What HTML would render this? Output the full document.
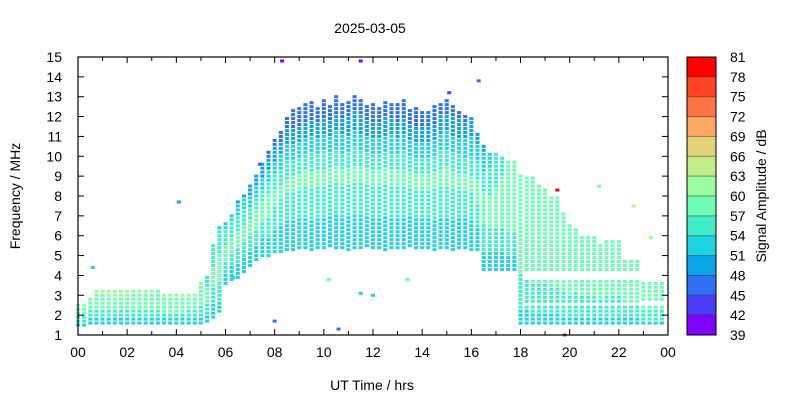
<!DOCTYPE html>
<html><head><meta charset="utf-8"><style>
body{margin:0;background:#fff;}
svg{display:block;font-family:"Liberation Sans",sans-serif;}
</style></head><body>
<svg id="chart" width="800" height="400" viewBox="0 0 800 400" xmlns="http://www.w3.org/2000/svg">
<text x="370" y="33" font-size="14" text-anchor="middle">2025-03-05</text>
<g id="marks"></g>
<g id="axes"></g>
<text x="372" y="390" font-size="14" text-anchor="middle">UT Time / hrs</text>
<text transform="translate(20,196) rotate(-90)" font-size="14" text-anchor="middle">Frequency / MHz</text>
<g id="cbar"></g>
<text transform="translate(766,196) rotate(-90)" font-size="14" text-anchor="middle">Signal Amplitude / dB</text>
</svg>
<script>
const lo1=[1.5,1.5,1.6,1.6,1.6,1.6,1.6,1.6,1.6,1.6,
1.6,1.6,1.6,1.6,1.6,1.6,1.6,1.6,1.6,1.6,
1.6,1.7,1.9,2.2,3.6,3.8,3.9,4.2,4.5,4.8,
5.0,5.0,5.2,5.2,5.3,5.3,5.4,5.4,5.3,5.4,
5.4,5.5,5.4,5.4,5.3,5.4,5.4,5.5,5.4,5.4,
5.3,5.4,5.4,5.4,5.5,5.4,5.4,5.4,5.3,5.4,
5.4,5.3,5.4,5.4,5.3,5.3,4.3,4.3,4.3,4.3,
4.3,4.3,1.6,1.6,1.6,1.6,1.6,1.6,1.6,1.6,
1.6,1.6,1.6,1.6,1.6,1.6,1.6,1.6,1.6,1.6,
1.6,1.6,1.6,1.6,1.6,1.6];
const hi1=[2.5,2.5,2.5,2.5,2.5,2.5,2.5,2.5,2.5,2.5,
2.5,2.5,2.5,2.5,2.5,2.5,2.5,2.5,2.5,2.5,
2.5,3.9,5.6,6.4,6.6,7.1,7.7,8.1,8.5,9.0,
9.6,10.2,10.8,11.3,11.9,12.3,12.4,12.6,12.7,12.5,
12.8,12.6,13.0,12.7,12.8,13.1,12.9,12.6,12.6,12.5,
12.8,12.7,12.6,12.8,12.4,12.4,12.3,12.3,12.5,12.6,
12.8,12.6,12.2,12.1,11.9,11.2,10.6,10.2,10.1,10.0,
9.7,9.7,2.4,2.4,2.4,2.4,2.4,2.4,2.4,2.4,
2.4,2.4,2.4,2.4,2.4,2.4,2.4,2.4,2.4,2.4,
2.4,2.4,2.4,2.4,2.4,2.4];
const lo2=[0,0,2.6,2.6,2.6,2.6,2.6,2.6,2.6,2.6,
2.6,2.6,2.6,2.6,2.6,2.6,2.6,2.6,2.6,2.6,
2.6,0,0,0,0,0,0,0,0,0,
0,0,0,0,0,0,0,0,0,0,
0,0,0,0,0,0,0,0,0,0,
0,0,0,0,0,0,0,0,0,0,
0,0,0,0,0,0,0,0,0,0,
0,0,2.6,2.7,2.7,2.7,2.7,2.7,2.7,2.7,
2.7,2.7,2.7,2.7,2.7,2.7,2.7,2.7,2.7,2.7,
2.7,2.7,2.8,2.8,2.8,2.8];
const hi2=[0,0,2.9,3.2,3.2,3.2,3.2,3.2,3.2,3.3,
3.3,3.3,3.3,3.3,3.0,3.0,3.0,3.0,3.0,3.0,
3.6,0,0,0,0,0,0,0,0,0,
0,0,0,0,0,0,0,0,0,0,
0,0,0,0,0,0,0,0,0,0,
0,0,0,0,0,0,0,0,0,0,
0,0,0,0,0,0,0,0,0,0,
0,0,9.0,3.8,3.8,3.8,3.8,3.8,3.8,3.8,
3.8,3.8,3.8,3.8,3.8,3.8,3.8,3.8,3.8,3.8,
3.8,3.8,3.7,3.7,3.7,3.7];
const lo3=[0,0,0,0,0,0,0,0,0,0,
0,0,0,0,0,0,0,0,0,0,
0,0,0,0,0,0,0,0,0,0,
0,0,0,0,0,0,0,0,0,0,
0,0,0,0,0,0,0,0,0,0,
0,0,0,0,0,0,0,0,0,0,
0,0,0,0,0,0,0,0,0,0,
0,0,0,4.3,4.3,4.3,4.3,4.3,4.3,4.3,
4.3,4.3,4.3,4.3,4.3,4.3,4.3,4.3,4.3,4.3,
4.3,4.3,0,0,0,0];
const hi3=[0,0,0,0,0,0,0,0,0,0,
0,0,0,0,0,0,0,0,0,0,
0,0,0,0,0,0,0,0,0,0,
0,0,0,0,0,0,0,0,0,0,
0,0,0,0,0,0,0,0,0,0,
0,0,0,0,0,0,0,0,0,0,
0,0,0,0,0,0,0,0,0,0,
0,0,0,9.0,8.9,8.5,8.3,7.9,8.0,7.2,
6.6,6.4,5.9,5.9,5.9,5.5,5.7,5.7,5.7,4.8,
4.8,4.8,0,0,0,0];
const ampBot=[52,52,52,52,52,52,52,52,52,52,52,52,52,52,52,52,52,52,52,52,52,52,52,52,51,51,51,51,51,51,51,51,51,51,51,51,51,51,51,51,51,51,51,51,51,51,51,51,51,51,51,51,51,51,51,51,51,51,51,51,51,51,51,51,51,51,52,52,52,52,52,52,53,53,53,53,53,53,53,53,53,53,53,53,53,53,53,53,53,53,53,53,53,53,53,53];
const ampMid=[57,57,57,58,58,58,58,58,58,58,58,58,58,58,58,58,58,58,57,57,58,58,58,59,59,59,59,59,59,59,59,59,58,58,58,58,58,58,58,58,58,58,58,58,58,58,58,58,58,58,58,58,58,58,58,58,58,58,58,58,58,58,58,58,58,59,59,59,59,59,59,59,59,59,60,60,60,60,60,60,60,59,59,59,59,59,59,59,59,59,59,59,59,59,59,59];
const ampTop=[60,60,60,60,60,61,61,61,61,61,61,61,61,60,60,60,60,60,60,60,60,56,55,54,53,52,51,50,49,48,48,47,47,46,46,45,45,45,45,45,45,45,45,45,45,45,45,45,45,45,45,45,45,45,45,45,45,45,45,46,46,46,47,47,48,49,50,52,54,56,58,58,57,57,57,57,57,57,57,57,57,57,57,57,57,57,57,57,57,57,57,57,57,57,57,57];
const outT=[8.3,11.5,15.1,16.3,4.1,0.6,10.6,8.0,19.5,21.2,22.6,23.3,19.8,10.2,13.4,12.0,11.5,7.4,6.3];
const outF=[14.8,14.8,13.2,13.8,7.7,4.4,1.3,1.7,8.3,8.5,7.5,5.9,1.0,3.8,3.8,3.0,3.1,9.6,3.9];
const outA=[40,40,42,45,48,51,45,45,80,57,63,60,75,57,57,51,51,45,51];
const cbTicks=[39,42,45,48,51,54,57,60,63,66,69,72,75,78,81];
const cbColors=["#8000ff","#4c3cf6","#2e70f2","#0ca6e8","#1ed4e0","#42ecc8","#6efdb2","#9afc9e","#c4ec88","#e2d37a","#ffa862","#ff7444","#ff4426","#ff0000"];
const xTicks=["00","02","04","06","08","10","12","14","16","18","20","22","00"];
const yTicks=[1,2,3,4,5,6,7,8,9,10,11,12,13,14,15];

const X0=78,X1=668,Y0=335,Y1=57;
const xs=t=>X0+t*(X1-X0)/24;
const ys=f=>Y0-(f-1)*(Y0-Y1)/14;
const NS="http://www.w3.org/2000/svg";
function color(a){let i=Math.floor((a-39)/3);if(i<0)i=0;if(i>13)i=13;return cbColors[i];}
const marks=document.getElementById('marks');
function cell(x,f,a){
  const r=document.createElementNS(NS,'rect');
  r.setAttribute('x',x-2);r.setAttribute('y',ys(f)-1.5);r.setAttribute('width',4);r.setAttribute('height',3);
  r.setAttribute('fill',color(a));
  
  
  marks.appendChild(r);
}
for(let i=0;i<96;i++){
  const t=i/4, x=xs(t);
  const segs=[[lo1[i],hi1[i]],[lo2[i],hi2[i]],[lo3[i],hi3[i]]].filter(s=>s[0]>0&&s[1]>0);
  if(!segs.length)continue;
  const fmin=Math.min(...segs.map(s=>s[0])),fmax=Math.max(...segs.map(s=>s[1]));
  const fm=(fmin+fmax)/2;
  segs.forEach(s=>{
    for(let f=s[0];f<=s[1]+0.001;f+=0.2){
      let a;
      if(f<fm)a=ampBot[i]+(ampMid[i]-ampBot[i])*(f-fmin)/Math.max(fm-fmin,0.01);
      else a=ampMid[i]+(ampTop[i]-ampMid[i])*(f-fm)/Math.max(fmax-fm,0.01);
      cell(x,f,a);
    }
  });
}
for(let k=0;k<outT.length;k++)cell(xs(outT[k]),outF[k],outA[k]);

const ax=document.getElementById('axes');
function el(tag,attrs,name,txt){const e=document.createElementNS(NS,tag);for(const k in attrs)e.setAttribute(k,attrs[k]);
  
  
  if(txt!==undefined)e.textContent=txt;ax.appendChild(e);return e;}
el('rect',{x:X0,y:Y1,width:X1-X0,height:Y0-Y1,fill:'none',stroke:'#000','stroke-width':1.2},'plot-frame');
for(let h=0;h<=24;h++){
  const x=xs(h),L=(h%2===0)?6:4;
  el('line',{x1:x,y1:Y0,x2:x,y2:Y0-L,stroke:'#000'},'x-tick');
  el('line',{x1:x,y1:Y1,x2:x,y2:Y1+L,stroke:'#000'},'x-tick-top');
}
xTicks.forEach((s,k)=>el('text',{x:xs(k*2),y:Y0+22,'font-size':14,'text-anchor':'middle'},'x-tick-label',s));
yTicks.forEach(v=>{
  const y=ys(v);
  el('line',{x1:X0,y1:y,x2:X0+6,y2:y,stroke:'#000'},'y-tick');
  el('line',{x1:X1,y1:y,x2:X1-6,y2:y,stroke:'#000'},'y-tick-right');
  el('text',{x:X0-16,y:y+5,'font-size':14,'text-anchor':'end'},'y-tick-label',v);
});
const cb=document.getElementById('cbar');
const CX=687,CW=29,bh=(Y0-Y1)/14;
cbColors.forEach((c,k)=>{const r=document.createElementNS(NS,'rect');
  r.setAttribute('x',CX);r.setAttribute('y',Y0-(k+1)*bh);r.setAttribute('width',CW);r.setAttribute('height',bh);r.setAttribute('fill',c);
  
  
  cb.appendChild(r);});
cbTicks.forEach((v,k)=>{const y=Y0-k*bh;
  const l=document.createElementNS(NS,'line');l.setAttribute('x1',CX);l.setAttribute('x2',CX+CW);l.setAttribute('y1',y);l.setAttribute('y2',y);l.setAttribute('stroke','#000');l.setAttribute('stroke-opacity','0.4');
  
  
  cb.appendChild(l);
  const t=document.createElementNS(NS,'text');t.setAttribute('x',730);t.setAttribute('y',y+5);t.setAttribute('font-size',14);t.textContent=v;
  
  
  cb.appendChild(t);});
const fr=document.createElementNS(NS,'rect');fr.setAttribute('x',CX);fr.setAttribute('y',Y1);fr.setAttribute('width',CW);fr.setAttribute('height',Y0-Y1);fr.setAttribute('fill','none');fr.setAttribute('stroke','#000');


cb.appendChild(fr);
</script>
</body></html>
